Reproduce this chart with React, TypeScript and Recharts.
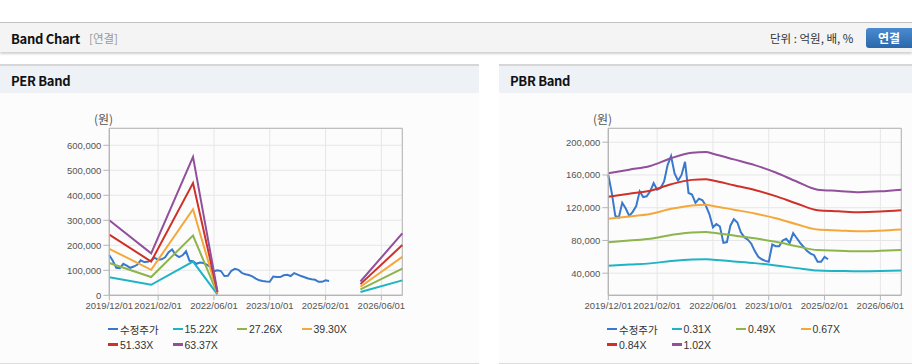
import React from "react";
import { CartesianGrid, Line, LineChart, ReferenceArea, XAxis, YAxis } from "recharts";

// month index: 0 = 2019/12
const xTickMonths = [0, 14, 30, 46, 62, 78];
const xTickLabels = ["2019/12/01", "2021/02/01", "2022/06/01", "2023/10/01", "2025/02/01", "2026/06/01"];

// 수정주가, monthly from 2019/12
const price = [
  160000, 138000, 110000, 108000, 126000, 119000, 110000, 115000, 122000, 140000,
  133000, 134000, 140000, 150000, 142000, 144000, 152000, 172000, 183000, 162000,
  153000, 160000, 176000, 138000, 136000, 126000, 131000, 129000, 122000, 112000,
  96000, 100000, 97000, 77000, 78000, 98000, 106000, 102000, 90000, 84000,
  81000, 76000, 67000, 60000, 57000, 55000, 54000, 75000, 73000, 73000,
  80000, 82000, 77000, 89000, 83000, 77000, 72000, 67000, 64000, 62000,
  54000, 54000, 60000, 57000,
];

// PER band (null = no estimate)
const perMonths = [0, 12, 24, 31, 50, 72, 84];
const per1522 = [72000, 42000, 135000, 3800, null, 13200, 59600];
const per2726 = [129000, 73000, 239000, 6800, null, 23700, 106700];
const per3930 = [186000, 102000, 344000, 9800, null, 34200, 153800];
const per5133 = [243000, 135000, 449000, 12800, null, 44700, 200900];
const per6337 = [300000, 168000, 554000, 15800, null, 55100, 248000];
const perTicks = [0, 100000, 200000, 300000, 400000, 500000, 600000];

// PBR band
const pbrMonths = [0, 6, 12, 18, 24, 28, 30, 36, 42, 48, 54, 60, 66, 72, 78, 84];
const pbr031 = [49200, 50600, 52000, 54900, 56800, 57100, 56500, 54400, 52300, 49500, 46200, 43200, 42700, 42300, 42600, 43200];
const pbr049 = [77800, 80000, 82100, 86700, 89800, 90300, 89400, 86000, 82600, 78300, 73000, 68200, 67500, 66800, 67300, 68200];
const pbr067 = [106400, 109300, 112300, 118600, 122800, 123500, 122200, 117600, 113000, 107100, 99800, 93300, 92300, 91300, 92000, 93300];
const pbr084 = [133400, 137100, 140800, 148700, 154000, 154800, 153200, 147400, 141600, 134200, 125200, 116900, 115700, 114500, 115300, 116900];
const pbr102 = [162000, 166500, 171000, 180500, 187000, 188000, 186000, 179000, 172000, 163000, 152000, 142000, 140500, 139000, 140000, 142000];
const pbrTicks = [40000, 80000, 120000, 160000, 200000];

const C_PRICE = "#3a78cc";
const C_CYAN = "#1fb3c6";
const C_GREEN = "#8cb54c";
const C_ORANGE = "#f5a83a";
const C_RED = "#cf3129";
const C_PURPLE = "#914f9c";

const rows = (months: number[], values: (number | null)[]) => months.map((m, i) => ({ m, v: values[i] }));
const priceRows = price.map((v, i) => ({ m: i, v }));

const TICK_FONT = { fontSize: 9.5, fill: "#555", fontFamily: "Liberation Sans, Arial, sans-serif" };

interface BandSeries {
  name: string;
  color: string;
  values: (number | null)[];
}

interface BandChartProps {
  left: number;
  width: number;
  months: number[];
  bands: BandSeries[];
  domain: [number, number];
  ticks: number[];
}

function BandChart({ left, width, months, bands, domain, ticks }: BandChartProps) {
  return (
    <div style={{ position: "absolute", left, top: 93 }}>
      <LineChart width={width} height={230} margin={{ top: 35.3, right: width - 402.3, bottom: 2.7, left: 49.3 }}>
        <CartesianGrid stroke="#e6e6e6" />
        <XAxis
          dataKey="m"
          type="number"
          domain={[0, 84]}
          ticks={xTickMonths}
          tickFormatter={(v) => xTickLabels[xTickMonths.indexOf(v)]}
          tick={TICK_FONT}
          tickSize={5}
          tickLine={{ stroke: "#b5b5b5" }}
          axisLine={{ stroke: "#b5b5b5" }}
          height={25}
          interval={0}
          allowDuplicatedCategory={false}
        />
        <YAxis
          type="number"
          domain={domain}
          ticks={ticks}
          allowDataOverflow
          tickFormatter={(v) => v.toLocaleString("en-US")}
          tick={TICK_FONT}
          tickSize={6}
          tickLine={{ stroke: "#b5b5b5" }}
          axisLine={{ stroke: "#b5b5b5" }}
          width={60}
          interval={0}
        />
        <ReferenceArea
          x1={0}
          x2={84}
          y1={domain[0]}
          y2={domain[1]}
          fill="none"
          stroke="#b5b5b5"
          strokeWidth={1}
          ifOverflow="visible"
        />
        <Line
          data={priceRows}
          dataKey="v"
          stroke={C_PRICE}
          strokeWidth={2}
          dot={false}
          type="linear"
          isAnimationActive={false}
        />
        {bands.map((b) => (
          <Line
            key={b.name}
            data={rows(months, b.values)}
            dataKey="v"
            stroke={b.color}
            strokeWidth={2}
            dot={false}
            type={months.length > 10 ? "monotone" : "linear"}
            connectNulls={false}
            isAnimationActive={false}
          />
        ))}
      </LineChart>
      <div style={{ position: "absolute", left: 94, top: 17, fontSize: 12, color: "#555", fontFamily: "Noto Sans CJK KR" }}>
        (원)
      </div>
    </div>
  );
}

function BandLegend({ left, items }: { left: number; items: { name: string; color: string }[] }) {
  return (
    <>
      {items.map((it, i) => (
        <div
          key={it.name}
          style={{
            position: "absolute",
            left: left + 108 + (i % 4) * 64.5,
            top: 321 + Math.floor(i / 4) * 15.5,
            height: 16,
            display: "flex",
            alignItems: "center",
            fontSize: 10.5,
            color: "#333",
            fontFamily: "Liberation Sans, Noto Sans CJK KR, sans-serif",
            whiteSpace: "nowrap",
          }}
        >
          <span style={{ display: "inline-block", width: 10, height: 2.5, background: it.color, marginRight: 2 }} />
          {it.name}
        </div>
      ))}
    </>
  );
}

export default function App() {
  const perBands: BandSeries[] = [
    { name: "15.22X", color: C_CYAN, values: per1522 },
    { name: "27.26X", color: C_GREEN, values: per2726 },
    { name: "39.30X", color: C_ORANGE, values: per3930 },
    { name: "51.33X", color: C_RED, values: per5133 },
    { name: "63.37X", color: C_PURPLE, values: per6337 },
  ];
  const pbrBands: BandSeries[] = [
    { name: "0.31X", color: C_CYAN, values: pbr031 },
    { name: "0.49X", color: C_GREEN, values: pbr049 },
    { name: "0.67X", color: C_ORANGE, values: pbr067 },
    { name: "0.84X", color: C_RED, values: pbr084 },
    { name: "1.02X", color: C_PURPLE, values: pbr102 },
  ];
  const kr = "Noto Sans CJK KR, sans-serif";

  return (
    <div
      style={{
        position: "absolute",
        left: 0,
        top: 0,
        width: 912,
        height: 364,
        background: "#fff",
        overflow: "hidden",
        fontFamily: kr,
      }}
    >
      {/* header bar */}
      <div
        style={{
          position: "absolute",
          left: 0,
          top: 22,
          width: 912,
          height: 29,
          background: "#f4f4f4",
          borderTop: "1px solid #c2c2c2",
          boxShadow: "0 2px 2px rgba(0,0,0,0.18)",
        }}
      >
        <span style={{ position: "absolute", left: 11, top: 6, fontSize: 13, fontWeight: 700, color: "#111", letterSpacing: -0.3 }}>
          Band Chart
        </span>
        <span style={{ position: "absolute", left: 89, top: 7, fontSize: 11.5, color: "#999" }}>[연결]</span>
        <span style={{ position: "absolute", left: 770, top: 7, fontSize: 11.5, color: "#333" }}>단위 : 억원, 배, %</span>
        <div
          style={{
            position: "absolute",
            left: 866,
            top: 5,
            width: 52,
            height: 20,
            borderRadius: 3,
            background: "linear-gradient(#4a8bd0, #2b67ab)",
            color: "#fff",
            fontSize: 12,
            fontWeight: 700,
            lineHeight: "20px",
            paddingLeft: 12,
            boxSizing: "border-box",
          }}
        >
          연결
        </div>
      </div>

      {/* panels */}
      {[
        { left: 0, width: 479, title: "PER Band" },
        { left: 499, width: 413, title: "PBR Band" },
      ].map((p) => (
        <div
          key={p.title}
          style={{
            position: "absolute",
            left: p.left,
            top: 64,
            width: p.width,
            height: 297,
            background: "#fcfcfc",
            borderTop: "2px solid #d6d6d6",
            borderBottom: "2px solid #dcdcdc",
          }}
        >
          <div style={{ height: 27, background: "#eef2f7", position: "relative" }}>
            <span style={{ position: "absolute", left: 11, top: 5, fontSize: 13, fontWeight: 700, color: "#111", letterSpacing: -0.3 }}>
              {p.title}
            </span>
          </div>
        </div>
      ))}

      <BandChart left={0} width={479} months={perMonths} bands={perBands} domain={[0, 668000]} ticks={perTicks} />
      <BandChart left={499} width={413} months={pbrMonths} bands={pbrBands} domain={[13000, 217000]} ticks={pbrTicks} />

      <BandLegend left={0} items={[{ name: "수정주가", color: C_PRICE }, ...perBands]} />
      <BandLegend left={499} items={[{ name: "수정주가", color: C_PRICE }, ...pbrBands]} />
    </div>
  );
}
